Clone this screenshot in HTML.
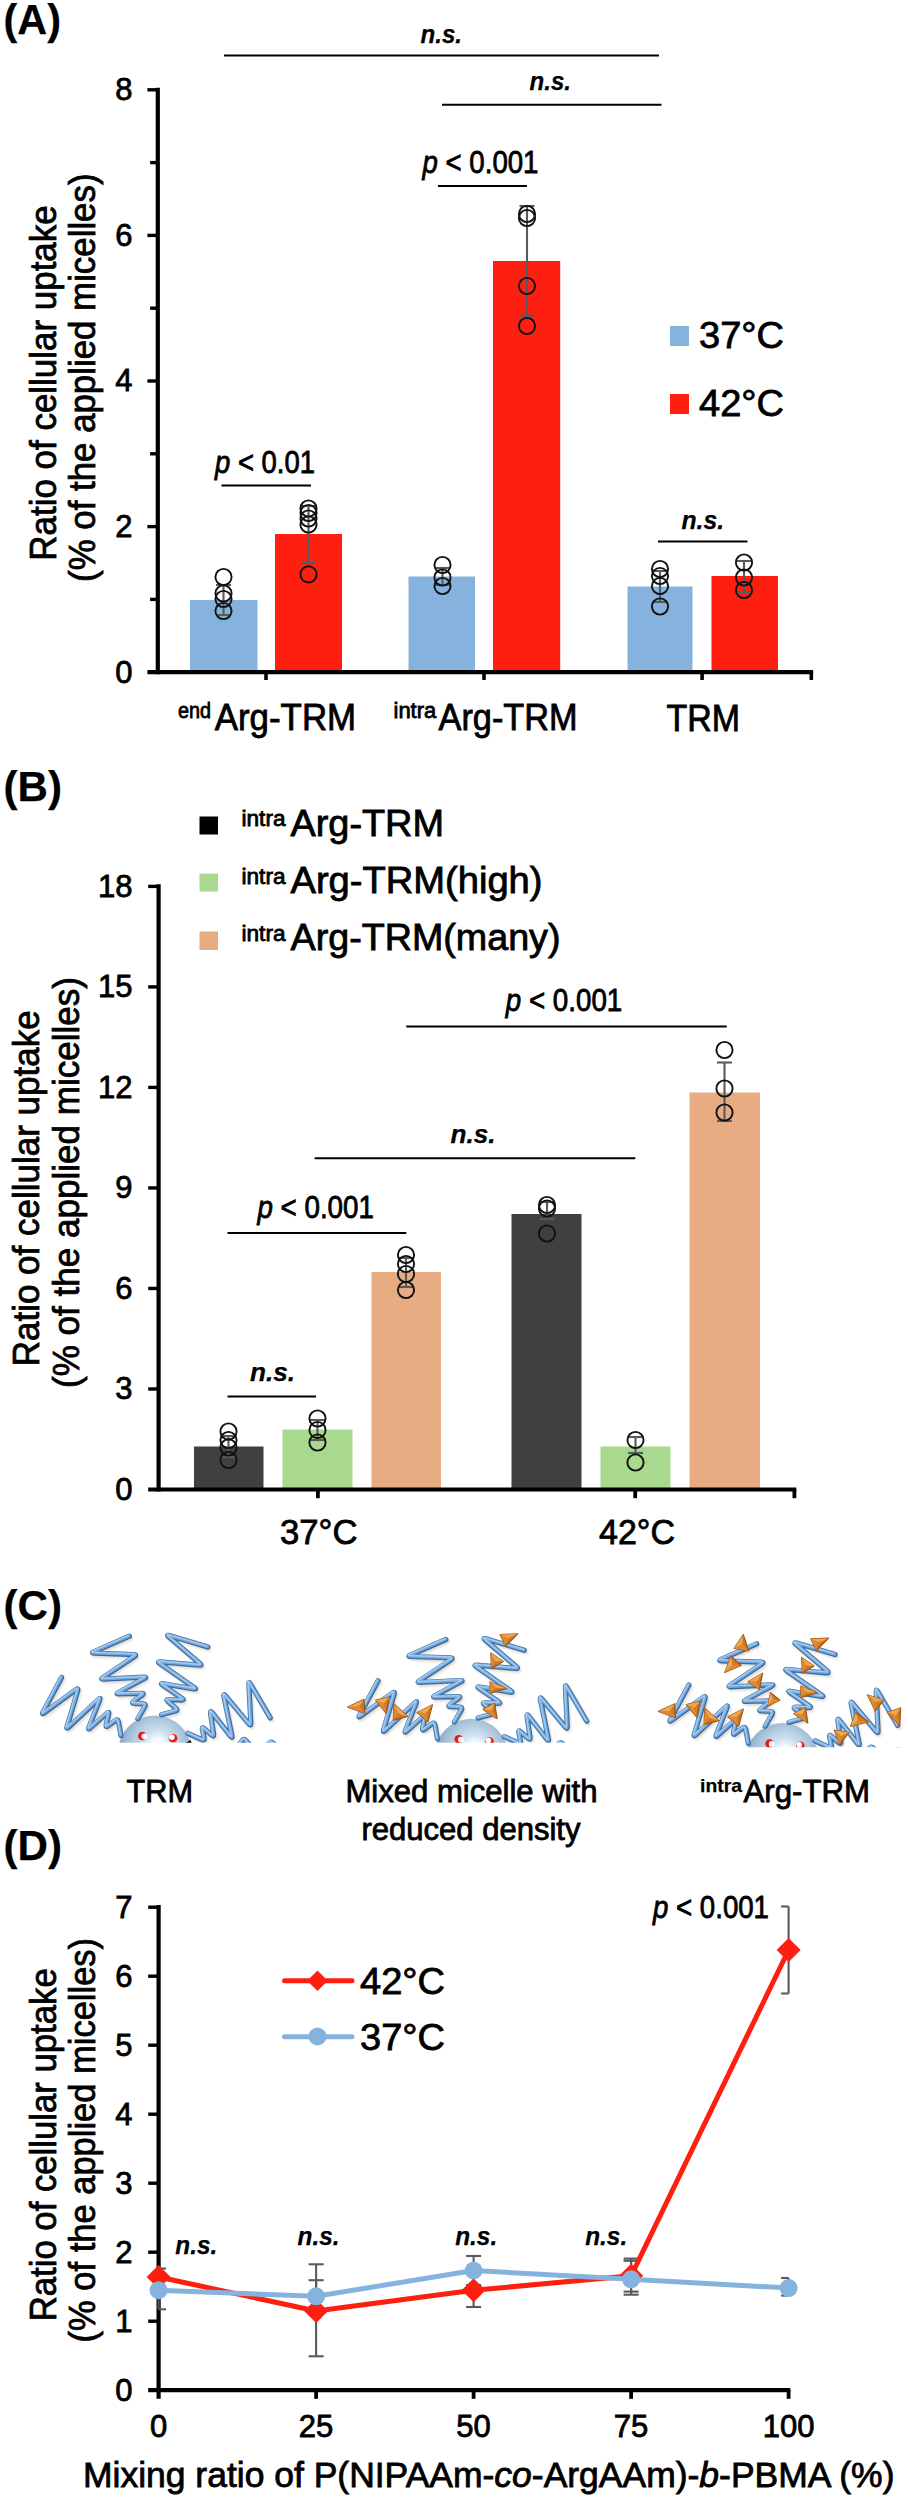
<!DOCTYPE html>
<html><head><meta charset="utf-8"><title>Figure</title>
<style>html,body{margin:0;padding:0;background:#fff;}svg{display:block;}text{font-family:'Liberation Sans', sans-serif;stroke:#000;stroke-width:0.8px;}</style>
</head><body>
<svg width="908" height="2500" viewBox="0 0 908 2500">
<rect width="908" height="2500" fill="#fff"/>
<text x="3.5" y="33.8" font-size="43" text-anchor="start" font-weight="bold" style="stroke-width:0.25px" textLength="57.5" lengthAdjust="spacingAndGlyphs" >(A)</text>
<rect x="190" y="600" width="67.5" height="72.2" fill="#86B3DE"/>
<rect x="275" y="534" width="67" height="138.2" fill="#FF1F10"/>
<rect x="408.5" y="576.5" width="66.5" height="95.7" fill="#86B3DE"/>
<rect x="493" y="261" width="67.2" height="411.2" fill="#FF1F10"/>
<rect x="627.5" y="586.5" width="65.0" height="85.7" fill="#86B3DE"/>
<rect x="711.5" y="576" width="66.5" height="96.2" fill="#FF1F10"/>
<line x1="157.8" y1="87.70000000000007" x2="157.8" y2="674.3000000000001" stroke="#000" stroke-width="4.2" />
<line x1="147.4" y1="672.2" x2="813.1" y2="672.2" stroke="#000" stroke-width="4.2" />
<line x1="150.10000000000002" y1="599.4000000000001" x2="157.8" y2="599.4000000000001" stroke="#000" stroke-width="3.4" />
<line x1="147.4" y1="526.6" x2="157.8" y2="526.6" stroke="#000" stroke-width="3.4" />
<line x1="150.10000000000002" y1="453.80000000000007" x2="157.8" y2="453.80000000000007" stroke="#000" stroke-width="3.4" />
<line x1="147.4" y1="381.00000000000006" x2="157.8" y2="381.00000000000006" stroke="#000" stroke-width="3.4" />
<line x1="150.10000000000002" y1="308.20000000000005" x2="157.8" y2="308.20000000000005" stroke="#000" stroke-width="3.4" />
<line x1="147.4" y1="235.4000000000001" x2="157.8" y2="235.4000000000001" stroke="#000" stroke-width="3.4" />
<line x1="150.10000000000002" y1="162.60000000000008" x2="157.8" y2="162.60000000000008" stroke="#000" stroke-width="3.4" />
<line x1="147.4" y1="89.80000000000007" x2="157.8" y2="89.80000000000007" stroke="#000" stroke-width="3.4" />
<line x1="266" y1="672.2" x2="266" y2="680.0" stroke="#000" stroke-width="3.6" />
<line x1="484" y1="672.2" x2="484" y2="680.0" stroke="#000" stroke-width="3.6" />
<line x1="702.1" y1="672.2" x2="702.1" y2="680.0" stroke="#000" stroke-width="3.6" />
<line x1="811.3" y1="672.2" x2="811.3" y2="680.0" stroke="#000" stroke-width="3.6" />
<text x="132.6" y="682.5" font-size="31" text-anchor="end" >0</text>
<text x="132.6" y="536.9" font-size="31" text-anchor="end" >2</text>
<text x="132.6" y="391.30000000000007" font-size="31" text-anchor="end" >4</text>
<text x="132.6" y="245.7000000000001" font-size="31" text-anchor="end" >6</text>
<text x="132.6" y="100.10000000000007" font-size="31" text-anchor="end" >8</text>
<text transform="translate(55.7,560.7) rotate(-90)" font-size="37" textLength="355.4" lengthAdjust="spacingAndGlyphs">Ratio of cellular uptake</text>
<text transform="translate(95,581.9) rotate(-90)" font-size="37" textLength="408.4" lengthAdjust="spacingAndGlyphs">(% of the applied micelles)</text>
<line x1="223.5" y1="585" x2="223.5" y2="615" stroke="#555b5e" stroke-width="2.1" />
<line x1="216.0" y1="585" x2="231.0" y2="585" stroke="#555b5e" stroke-width="2.1" />
<line x1="216.0" y1="615" x2="231.0" y2="615" stroke="#555b5e" stroke-width="2.1" />
<circle cx="223.5" cy="577" r="8.1" fill="none" stroke="#111" stroke-width="1.9"/>
<circle cx="223.5" cy="593.5" r="8.1" fill="none" stroke="#111" stroke-width="1.9"/>
<circle cx="223.5" cy="599" r="8.1" fill="none" stroke="#111" stroke-width="1.9"/>
<circle cx="223.5" cy="611" r="8.1" fill="none" stroke="#111" stroke-width="1.9"/>
<line x1="308.5" y1="506" x2="308.5" y2="563" stroke="#555b5e" stroke-width="2.1" />
<line x1="301.0" y1="506" x2="316.0" y2="506" stroke="#555b5e" stroke-width="2.1" />
<line x1="301.0" y1="563" x2="316.0" y2="563" stroke="#555b5e" stroke-width="2.1" />
<circle cx="308.5" cy="508.5" r="8.1" fill="none" stroke="#111" stroke-width="1.9"/>
<circle cx="308.5" cy="513" r="8.1" fill="none" stroke="#111" stroke-width="1.9"/>
<circle cx="308.5" cy="518.5" r="8.1" fill="none" stroke="#111" stroke-width="1.9"/>
<circle cx="308.5" cy="524.5" r="8.1" fill="none" stroke="#111" stroke-width="1.9"/>
<circle cx="308.5" cy="574.4" r="8.1" fill="none" stroke="#111" stroke-width="1.9"/>
<line x1="442.5" y1="568" x2="442.5" y2="585" stroke="#555b5e" stroke-width="2.1" />
<line x1="435.0" y1="568" x2="450.0" y2="568" stroke="#555b5e" stroke-width="2.1" />
<line x1="435.0" y1="585" x2="450.0" y2="585" stroke="#555b5e" stroke-width="2.1" />
<circle cx="442.5" cy="565" r="8.1" fill="none" stroke="#111" stroke-width="1.9"/>
<circle cx="442.5" cy="577.5" r="8.1" fill="none" stroke="#111" stroke-width="1.9"/>
<circle cx="442.5" cy="586" r="8.1" fill="none" stroke="#111" stroke-width="1.9"/>
<line x1="527" y1="206" x2="527" y2="316" stroke="#555b5e" stroke-width="2.1" />
<line x1="519.5" y1="206" x2="534.5" y2="206" stroke="#555b5e" stroke-width="2.1" />
<line x1="519.5" y1="316" x2="534.5" y2="316" stroke="#555b5e" stroke-width="2.1" />
<circle cx="527" cy="214" r="8.1" fill="none" stroke="#111" stroke-width="1.9"/>
<circle cx="527" cy="218" r="8.1" fill="none" stroke="#111" stroke-width="1.9"/>
<circle cx="527" cy="286" r="8.1" fill="none" stroke="#111" stroke-width="1.9"/>
<circle cx="527" cy="326" r="8.1" fill="none" stroke="#111" stroke-width="1.9"/>
<line x1="660" y1="571" x2="660" y2="602" stroke="#555b5e" stroke-width="2.1" />
<line x1="652.5" y1="571" x2="667.5" y2="571" stroke="#555b5e" stroke-width="2.1" />
<line x1="652.5" y1="602" x2="667.5" y2="602" stroke="#555b5e" stroke-width="2.1" />
<circle cx="660" cy="569" r="8.1" fill="none" stroke="#111" stroke-width="1.9"/>
<circle cx="660" cy="576" r="8.1" fill="none" stroke="#111" stroke-width="1.9"/>
<circle cx="660" cy="586" r="8.1" fill="none" stroke="#111" stroke-width="1.9"/>
<circle cx="660" cy="606.5" r="8.1" fill="none" stroke="#111" stroke-width="1.9"/>
<line x1="744" y1="561" x2="744" y2="592" stroke="#555b5e" stroke-width="2.1" />
<line x1="736.5" y1="561" x2="751.5" y2="561" stroke="#555b5e" stroke-width="2.1" />
<line x1="736.5" y1="592" x2="751.5" y2="592" stroke="#555b5e" stroke-width="2.1" />
<circle cx="744" cy="562.5" r="8.1" fill="none" stroke="#111" stroke-width="1.9"/>
<circle cx="744" cy="577.5" r="8.1" fill="none" stroke="#111" stroke-width="1.9"/>
<circle cx="744" cy="590" r="8.1" fill="none" stroke="#111" stroke-width="1.9"/>
<text x="420.5" y="43" font-size="25" text-anchor="start" font-weight="bold" style="stroke-width:0.25px" font-style="italic" textLength="41.5" lengthAdjust="spacingAndGlyphs" >n.s.</text>
<line x1="224" y1="55.6" x2="659" y2="55.6" stroke="#000" stroke-width="2" />
<text x="529.5" y="90.3" font-size="25" text-anchor="start" font-weight="bold" style="stroke-width:0.25px" font-style="italic" textLength="41.5" lengthAdjust="spacingAndGlyphs" >n.s.</text>
<line x1="442" y1="104.8" x2="661.5" y2="104.8" stroke="#000" stroke-width="2" />
<text x="422.5" y="172.5" font-size="30.5" text-anchor="start" textLength="116" lengthAdjust="spacingAndGlyphs" ><tspan font-style="italic">p</tspan> &lt; 0.001</text>
<line x1="438" y1="186" x2="527" y2="186" stroke="#000" stroke-width="2" />
<text x="215" y="472.5" font-size="30.5" text-anchor="start" textLength="100" lengthAdjust="spacingAndGlyphs" ><tspan font-style="italic">p</tspan> &lt; 0.01</text>
<line x1="221.5" y1="485.5" x2="311" y2="485.5" stroke="#000" stroke-width="2" />
<text x="681.5" y="528.5" font-size="25" text-anchor="start" font-weight="bold" style="stroke-width:0.25px" font-style="italic" textLength="42.5" lengthAdjust="spacingAndGlyphs" >n.s.</text>
<line x1="658" y1="541.5" x2="747.5" y2="541.5" stroke="#000" stroke-width="2" />
<rect x="670" y="326" width="19" height="20" fill="#86B3DE"/>
<text x="699" y="348" font-size="36" text-anchor="start" textLength="85" lengthAdjust="spacingAndGlyphs" >37°C</text>
<rect x="670" y="394" width="19" height="20" fill="#FF1F10"/>
<text x="699" y="416" font-size="36" text-anchor="start" textLength="85" lengthAdjust="spacingAndGlyphs" >42°C</text>
<text x="178" y="717.8" font-size="22" text-anchor="start" textLength="33" lengthAdjust="spacingAndGlyphs" >end</text>
<text x="214.7" y="729.9" font-size="36" text-anchor="start" textLength="141.5" lengthAdjust="spacingAndGlyphs" >Arg-TRM</text>
<text x="393.5" y="717.8" font-size="22" text-anchor="start" textLength="42.7" lengthAdjust="spacingAndGlyphs" >intra</text>
<text x="438.6" y="729.9" font-size="36" text-anchor="start" textLength="139" lengthAdjust="spacingAndGlyphs" >Arg-TRM</text>
<text x="666.5" y="730.5" font-size="36" text-anchor="start" textLength="73.5" lengthAdjust="spacingAndGlyphs" >TRM</text>
<text x="3.5" y="801.3" font-size="43" text-anchor="start" font-weight="bold" style="stroke-width:0.25px" textLength="58.5" lengthAdjust="spacingAndGlyphs" >(B)</text>
<rect x="194" y="1446.5" width="69.5" height="43.0" fill="#404040"/>
<rect x="282.5" y="1429.5" width="70.0" height="60.0" fill="#A9D98E"/>
<rect x="371.5" y="1272" width="69.5" height="217.5" fill="#E8AC82"/>
<rect x="511.5" y="1214" width="70.0" height="275.5" fill="#404040"/>
<rect x="600.5" y="1446.5" width="70.0" height="43.0" fill="#A9D98E"/>
<rect x="689.5" y="1092.5" width="70.5" height="397.0" fill="#E8AC82"/>
<line x1="158.6" y1="884.28" x2="158.6" y2="1491.6" stroke="#000" stroke-width="4.2" />
<line x1="148.2" y1="1489.5" x2="796.3" y2="1489.5" stroke="#000" stroke-width="4.2" />
<line x1="148.2" y1="1388.98" x2="158.6" y2="1388.98" stroke="#000" stroke-width="3.4" />
<line x1="148.2" y1="1288.46" x2="158.6" y2="1288.46" stroke="#000" stroke-width="3.4" />
<line x1="148.2" y1="1187.94" x2="158.6" y2="1187.94" stroke="#000" stroke-width="3.4" />
<line x1="148.2" y1="1087.42" x2="158.6" y2="1087.42" stroke="#000" stroke-width="3.4" />
<line x1="148.2" y1="986.9" x2="158.6" y2="986.9" stroke="#000" stroke-width="3.4" />
<line x1="148.2" y1="886.38" x2="158.6" y2="886.38" stroke="#000" stroke-width="3.4" />
<line x1="317.9" y1="1489.5" x2="317.9" y2="1498.2" stroke="#000" stroke-width="3.8" />
<line x1="635.2" y1="1489.5" x2="635.2" y2="1498.2" stroke="#000" stroke-width="3.8" />
<line x1="794.4" y1="1489.5" x2="794.4" y2="1498.2" stroke="#000" stroke-width="3.8" />
<text x="132.6" y="1499.8" font-size="31" text-anchor="end" >0</text>
<text x="132.6" y="1399.28" font-size="31" text-anchor="end" >3</text>
<text x="132.6" y="1298.76" font-size="31" text-anchor="end" >6</text>
<text x="132.6" y="1198.24" font-size="31" text-anchor="end" >9</text>
<text x="132.6" y="1097.72" font-size="31" text-anchor="end" >12</text>
<text x="132.6" y="997.1999999999999" font-size="31" text-anchor="end" >15</text>
<text x="132.6" y="896.68" font-size="31" text-anchor="end" >18</text>
<text transform="translate(39.4,1366.3) rotate(-90)" font-size="37" textLength="356" lengthAdjust="spacingAndGlyphs">Ratio of cellular uptake</text>
<text transform="translate(78.6,1388) rotate(-90)" font-size="37" textLength="411" lengthAdjust="spacingAndGlyphs">(% of the applied micelles)</text>
<rect x="199.5" y="816.5" width="18.5" height="18.0" fill="#000"/>
<rect x="199.5" y="873.5" width="18.5" height="18.0" fill="#A9D98E"/>
<rect x="199.5" y="931.5" width="18.5" height="18.5" fill="#E8AC82"/>
<text x="241.5" y="826.3" font-size="22" text-anchor="start" textLength="44" lengthAdjust="spacingAndGlyphs" >intra</text>
<text x="290.5" y="836.0" font-size="36" text-anchor="start" textLength="153.5" lengthAdjust="spacingAndGlyphs" >Arg-TRM</text>
<text x="241.5" y="883.5" font-size="22" text-anchor="start" textLength="44" lengthAdjust="spacingAndGlyphs" >intra</text>
<text x="290.5" y="893.2" font-size="36" text-anchor="start" textLength="252" lengthAdjust="spacingAndGlyphs" >Arg-TRM(high)</text>
<text x="241.5" y="940.6999999999999" font-size="22" text-anchor="start" textLength="44" lengthAdjust="spacingAndGlyphs" >intra</text>
<text x="290.5" y="950.4" font-size="36" text-anchor="start" textLength="270" lengthAdjust="spacingAndGlyphs" >Arg-TRM(many)</text>
<line x1="228.5" y1="1436" x2="228.5" y2="1457" stroke="#555b5e" stroke-width="2.1" />
<line x1="221.0" y1="1436" x2="236.0" y2="1436" stroke="#555b5e" stroke-width="2.1" />
<line x1="221.0" y1="1457" x2="236.0" y2="1457" stroke="#555b5e" stroke-width="2.1" />
<circle cx="228.5" cy="1431.5" r="8.1" fill="none" stroke="#111" stroke-width="1.9"/>
<circle cx="228.5" cy="1440" r="8.1" fill="none" stroke="#111" stroke-width="1.9"/>
<circle cx="228.5" cy="1447.5" r="8.1" fill="none" stroke="#111" stroke-width="1.9"/>
<circle cx="228.5" cy="1460" r="8.1" fill="none" stroke="#111" stroke-width="1.9"/>
<line x1="317.5" y1="1420" x2="317.5" y2="1440" stroke="#555b5e" stroke-width="2.1" />
<line x1="310.0" y1="1420" x2="325.0" y2="1420" stroke="#555b5e" stroke-width="2.1" />
<line x1="310.0" y1="1440" x2="325.0" y2="1440" stroke="#555b5e" stroke-width="2.1" />
<circle cx="317.5" cy="1418.5" r="8.1" fill="none" stroke="#111" stroke-width="1.9"/>
<circle cx="317.5" cy="1430" r="8.1" fill="none" stroke="#111" stroke-width="1.9"/>
<circle cx="317.5" cy="1442.5" r="8.1" fill="none" stroke="#111" stroke-width="1.9"/>
<line x1="406" y1="1258" x2="406" y2="1287" stroke="#555b5e" stroke-width="2.1" />
<line x1="398.5" y1="1258" x2="413.5" y2="1258" stroke="#555b5e" stroke-width="2.1" />
<line x1="398.5" y1="1287" x2="413.5" y2="1287" stroke="#555b5e" stroke-width="2.1" />
<circle cx="406" cy="1255" r="8.1" fill="none" stroke="#111" stroke-width="1.9"/>
<circle cx="406" cy="1264" r="8.1" fill="none" stroke="#111" stroke-width="1.9"/>
<circle cx="406" cy="1274" r="8.1" fill="none" stroke="#111" stroke-width="1.9"/>
<circle cx="406" cy="1290" r="8.1" fill="none" stroke="#111" stroke-width="1.9"/>
<line x1="547" y1="1202" x2="547" y2="1219" stroke="#555b5e" stroke-width="2.1" />
<line x1="539.5" y1="1202" x2="554.5" y2="1202" stroke="#555b5e" stroke-width="2.1" />
<line x1="539.5" y1="1219" x2="554.5" y2="1219" stroke="#555b5e" stroke-width="2.1" />
<circle cx="547" cy="1205" r="8.1" fill="none" stroke="#111" stroke-width="1.9"/>
<circle cx="547" cy="1208.5" r="8.1" fill="none" stroke="#111" stroke-width="1.9"/>
<circle cx="547" cy="1233.5" r="8.1" fill="none" stroke="#111" stroke-width="1.9"/>
<line x1="635.5" y1="1437" x2="635.5" y2="1453" stroke="#555b5e" stroke-width="2.1" />
<line x1="628.0" y1="1437" x2="643.0" y2="1437" stroke="#555b5e" stroke-width="2.1" />
<line x1="628.0" y1="1453" x2="643.0" y2="1453" stroke="#555b5e" stroke-width="2.1" />
<circle cx="635.5" cy="1440" r="8.1" fill="none" stroke="#111" stroke-width="1.9"/>
<circle cx="635.5" cy="1462.5" r="8.1" fill="none" stroke="#111" stroke-width="1.9"/>
<line x1="724.5" y1="1062.5" x2="724.5" y2="1121" stroke="#555b5e" stroke-width="2.1" />
<line x1="717.0" y1="1062.5" x2="732.0" y2="1062.5" stroke="#555b5e" stroke-width="2.1" />
<line x1="717.0" y1="1121" x2="732.0" y2="1121" stroke="#555b5e" stroke-width="2.1" />
<circle cx="724.5" cy="1050" r="8.1" fill="none" stroke="#111" stroke-width="1.9"/>
<circle cx="724.5" cy="1088.5" r="8.1" fill="none" stroke="#111" stroke-width="1.9"/>
<circle cx="724.5" cy="1112.5" r="8.1" fill="none" stroke="#111" stroke-width="1.9"/>
<text x="505.8" y="1010.8" font-size="30.5" text-anchor="start" textLength="116.5" lengthAdjust="spacingAndGlyphs" ><tspan font-style="italic">p</tspan> &lt; 0.001</text>
<line x1="406.3" y1="1026.5" x2="726.7" y2="1026.5" stroke="#000" stroke-width="2" />
<text x="450.6" y="1142.5" font-size="25" text-anchor="start" font-weight="bold" style="stroke-width:0.25px" font-style="italic" textLength="45" lengthAdjust="spacingAndGlyphs" >n.s.</text>
<line x1="314.6" y1="1158.2" x2="635.3" y2="1158.2" stroke="#000" stroke-width="2" />
<text x="257.4" y="1218.4" font-size="30.5" text-anchor="start" textLength="116.5" lengthAdjust="spacingAndGlyphs" ><tspan font-style="italic">p</tspan> &lt; 0.001</text>
<line x1="227.5" y1="1233" x2="406.3" y2="1233" stroke="#000" stroke-width="2" />
<text x="250" y="1381" font-size="25" text-anchor="start" font-weight="bold" style="stroke-width:0.25px" font-style="italic" textLength="45" lengthAdjust="spacingAndGlyphs" >n.s.</text>
<line x1="227.5" y1="1396.5" x2="316" y2="1396.5" stroke="#000" stroke-width="2" />
<text x="280" y="1543.6" font-size="34.5" text-anchor="start" textLength="77.5" lengthAdjust="spacingAndGlyphs" >37°C</text>
<text x="599" y="1543.6" font-size="34.5" text-anchor="start" textLength="76" lengthAdjust="spacingAndGlyphs" >42°C</text>
<text x="3.5" y="1620.4" font-size="43" text-anchor="start" font-weight="bold" style="stroke-width:0.25px" textLength="58.5" lengthAdjust="spacingAndGlyphs" >(C)</text>
<defs>
<radialGradient id="sph" gradientUnits="userSpaceOnUse" cx="157" cy="1746" r="43" fx="158" fy="1744">
<stop offset="0" stop-color="#ffffff"/><stop offset="0.14" stop-color="#f4f9fd"/><stop offset="0.32" stop-color="#cfe1ef"/><stop offset="0.58" stop-color="#b0cadf"/><stop offset="0.82" stop-color="#93b0c9"/><stop offset="1" stop-color="#7d99b1"/>
</radialGradient>
<filter id="shb" x="-10%" y="-10%" width="120%" height="130%"><feGaussianBlur stdDeviation="1.1"/></filter>
<filter id="sft" x="-5%" y="-5%" width="110%" height="110%"><feGaussianBlur stdDeviation="0.45"/></filter>
<g id="chains">
<path d="M61.6,1677.4 L43.1,1712.0 Q41.6,1714.8 44.2,1712.9 L76.0,1689.7 Q78.6,1687.8 77.7,1690.9 L67.1,1726.4 Q66.2,1729.5 68.5,1727.3 L98.6,1699.3 Q100.9,1697.1 99.7,1700.1 L89.0,1727.2 Q87.8,1730.2 90.2,1728.1 L107.0,1713.1 Q109.4,1711.0 108.7,1714.1 L106.2,1724.8 Q105.5,1727.9 108.1,1726.0 L115.3,1720.6 Q117.9,1718.7 118.5,1721.8 L121.0,1735.6"/><path d="M129.4,1636.2 L93.8,1651.8 Q90.9,1653.1 94.1,1653.2 L134.0,1654.6 Q137.2,1654.7 134.5,1656.5 L102.9,1677.6 Q100.2,1679.4 103.4,1679.2 L144.0,1677.2 Q147.2,1677.0 144.4,1678.5 L118.4,1692.5 Q115.6,1694.0 118.8,1693.9 L141.7,1693.3 Q144.9,1693.2 142.3,1695.1 L133.6,1701.4 Q131.0,1703.3 134.2,1703.4 L143.2,1703.9 Q146.4,1704.0 144.8,1706.8 L137.9,1718.7"/><path d="M207.8,1647.0 L169.3,1635.5 Q166.2,1634.6 168.6,1636.7 L200.0,1663.4 Q202.4,1665.5 199.2,1665.2 L160.2,1661.9 Q157.0,1661.6 159.6,1663.4 L194.4,1687.6 Q197.0,1689.4 193.8,1688.9 L163.2,1683.7 Q160.0,1683.2 162.6,1685.0 L182.1,1698.4 Q184.7,1700.2 181.5,1700.1 L168.6,1699.5 Q165.4,1699.4 167.9,1701.4 L176.0,1708.2 Q178.5,1710.2 175.4,1711.0 L161.6,1714.8"/><path d="M187.8,1733.3 L201.9,1739.7 Q204.8,1741.0 204.1,1737.9 L202.4,1729.5 Q201.7,1726.4 204.1,1728.5 L211.6,1735.1 Q214.0,1737.2 213.6,1734.0 L210.6,1713.4 Q210.2,1710.2 212.2,1712.7 L230.5,1736.2 Q232.5,1738.7 231.9,1735.6 L223.9,1696.3 Q223.3,1693.2 225.4,1695.7 L248.9,1723.9 Q251.0,1726.4 250.8,1723.2 L248.9,1684.1 Q248.7,1680.9 250.3,1683.7 L270.3,1717.9"/><path d="M239.5,1744.0 L242.0,1740.7 Q244.0,1738.2 246.1,1740.6 L249.0,1744.0"/><path d="M268.5,1744.0 L269.8,1742.8 Q271.0,1741.5 272.5,1742.8 L274.0,1744.0"/>
</g>
<g id="sphere">
<circle cx="154.8" cy="1752" r="36.6" fill="url(#sph)"/>
<path d="M184.5,1743.5 L192,1743.5 L190.3,1739.8 Q188,1742 184.5,1743.5 Z" fill="#111"/>
<circle cx="142.3" cy="1736" r="4.3" fill="#f01515"/><circle cx="144.4" cy="1736.3" r="2.9" fill="#fff"/>
<circle cx="173" cy="1738.2" r="4.3" fill="#f01515"/><circle cx="171.9" cy="1737.2" r="2.8" fill="#fff"/>
</g>
</defs><clipPath id="mc1"><rect x="20" y="1620" width="280" height="122.79999999999995"/></clipPath><g clip-path="url(#mc1)"><g transform="translate(0,0)" filter="url(#sft)"><use href="#chains" transform="translate(1.6,2.2)" fill="none" stroke="#d9cfc0" stroke-opacity="0.75" stroke-width="4.6" stroke-linejoin="round" stroke-linecap="round" filter="url(#shb)"/><use href="#sphere"/><use href="#chains" fill="none" stroke="#386ca6" stroke-width="5.2" stroke-linejoin="round" stroke-linecap="round"/><use href="#chains" transform="translate(-0.35,-0.45)" fill="none" stroke="#74a8da" stroke-width="3.4" stroke-linejoin="round" stroke-linecap="round"/><use href="#chains" transform="translate(-0.7,-0.9)" fill="none" stroke="#a8ccee" stroke-width="1.3" stroke-linejoin="round" stroke-linecap="round"/></g></g><clipPath id="mc2"><rect x="330" y="1620" width="280" height="122.79999999999995"/></clipPath><g clip-path="url(#mc2)"><g transform="translate(316.5,3.3)" filter="url(#sft)"><use href="#chains" transform="translate(1.6,2.2)" fill="none" stroke="#d9cfc0" stroke-opacity="0.75" stroke-width="4.6" stroke-linejoin="round" stroke-linecap="round" filter="url(#shb)"/><use href="#sphere"/><use href="#chains" fill="none" stroke="#386ca6" stroke-width="5.2" stroke-linejoin="round" stroke-linecap="round"/><use href="#chains" transform="translate(-0.35,-0.45)" fill="none" stroke="#74a8da" stroke-width="3.4" stroke-linejoin="round" stroke-linecap="round"/><use href="#chains" transform="translate(-0.7,-0.9)" fill="none" stroke="#a8ccee" stroke-width="1.3" stroke-linejoin="round" stroke-linecap="round"/><path d="M31.2,1703.8 L47.4,1696.1 L48.2,1710.0 Z" fill="#cf7a26" stroke="#9c5218" stroke-width="1.2" stroke-linejoin="round"/><path d="M31.2,1703.8 L47.4,1696.1 L42.3,1703.3 Z" fill="#f0a850"/><path d="M31.2,1703.8 L48.2,1710.0 L42.3,1703.3 Z" fill="#dd8a32"/><path d="M59.0,1696.9 L72.8,1693.8 L69.8,1710.0 Z" fill="#cf7a26" stroke="#9c5218" stroke-width="1.2" stroke-linejoin="round"/><path d="M59.0,1696.9 L72.8,1693.8 L67.2,1700.2 Z" fill="#f0a850"/><path d="M59.0,1696.9 L69.8,1710.0 L67.2,1700.2 Z" fill="#dd8a32"/><path d="M77.5,1700.7 L91.3,1713.1 L76.7,1716.9 Z" fill="#cf7a26" stroke="#9c5218" stroke-width="1.2" stroke-linejoin="round"/><path d="M77.5,1700.7 L91.3,1713.1 L81.8,1710.2 Z" fill="#f0a850"/><path d="M77.5,1700.7 L76.7,1716.9 L81.8,1710.2 Z" fill="#dd8a32"/><path d="M100.6,1709.2 L116.0,1701.5 L111.4,1718.5 Z" fill="#cf7a26" stroke="#9c5218" stroke-width="1.2" stroke-linejoin="round"/><path d="M100.6,1709.2 L116.0,1701.5 L109.3,1709.7 Z" fill="#f0a850"/><path d="M100.6,1709.2 L111.4,1718.5 L109.3,1709.7 Z" fill="#dd8a32"/><path d="M183.6,1631.3 L201.3,1630.6 L189.0,1642.9 Z" fill="#cf7a26" stroke="#9c5218" stroke-width="1.2" stroke-linejoin="round"/><path d="M183.6,1631.3 L201.3,1630.6 L191.3,1634.9 Z" fill="#f0a850"/><path d="M183.6,1631.3 L189.0,1642.9 L191.3,1634.9 Z" fill="#dd8a32"/><path d="M174.3,1649.8 L186.7,1658.3 L175.1,1665.3 Z" fill="#cf7a26" stroke="#9c5218" stroke-width="1.2" stroke-linejoin="round"/><path d="M174.3,1649.8 L186.7,1658.3 L178.7,1657.8 Z" fill="#f0a850"/><path d="M174.3,1649.8 L175.1,1665.3 L178.7,1657.8 Z" fill="#dd8a32"/><path d="M173.6,1678.4 L189.8,1685.3 L173.6,1689.9 Z" fill="#cf7a26" stroke="#9c5218" stroke-width="1.2" stroke-linejoin="round"/><path d="M173.6,1678.4 L189.8,1685.3 L179.0,1684.5 Z" fill="#f0a850"/><path d="M173.6,1678.4 L173.6,1689.9 L179.0,1684.5 Z" fill="#dd8a32"/><path d="M166.6,1706.1 L178.2,1700.0 L180.5,1715.4 Z" fill="#cf7a26" stroke="#9c5218" stroke-width="1.2" stroke-linejoin="round"/><path d="M166.6,1706.1 L178.2,1700.0 L175.1,1707.2 Z" fill="#f0a850"/><path d="M166.6,1706.1 L180.5,1715.4 L175.1,1707.2 Z" fill="#dd8a32"/></g></g><clipPath id="mc3"><rect x="640" y="1620" width="268" height="127.20000000000005"/></clipPath><g clip-path="url(#mc3)"><g transform="translate(627.3,7.6)" filter="url(#sft)"><use href="#chains" transform="translate(1.6,2.2)" fill="none" stroke="#d9cfc0" stroke-opacity="0.75" stroke-width="4.6" stroke-linejoin="round" stroke-linecap="round" filter="url(#shb)"/><use href="#sphere"/><use href="#chains" fill="none" stroke="#386ca6" stroke-width="5.2" stroke-linejoin="round" stroke-linecap="round"/><use href="#chains" transform="translate(-0.35,-0.45)" fill="none" stroke="#74a8da" stroke-width="3.4" stroke-linejoin="round" stroke-linecap="round"/><use href="#chains" transform="translate(-0.7,-0.9)" fill="none" stroke="#a8ccee" stroke-width="1.3" stroke-linejoin="round" stroke-linecap="round"/><path d="M31.2,1703.8 L47.4,1696.1 L48.2,1710.0 Z" fill="#cf7a26" stroke="#9c5218" stroke-width="1.2" stroke-linejoin="round"/><path d="M31.2,1703.8 L47.4,1696.1 L42.3,1703.3 Z" fill="#f0a850"/><path d="M31.2,1703.8 L48.2,1710.0 L42.3,1703.3 Z" fill="#dd8a32"/><path d="M59.0,1696.9 L72.8,1693.8 L69.8,1710.0 Z" fill="#cf7a26" stroke="#9c5218" stroke-width="1.2" stroke-linejoin="round"/><path d="M59.0,1696.9 L72.8,1693.8 L67.2,1700.2 Z" fill="#f0a850"/><path d="M59.0,1696.9 L69.8,1710.0 L67.2,1700.2 Z" fill="#dd8a32"/><path d="M77.5,1700.7 L91.3,1713.1 L76.7,1716.9 Z" fill="#cf7a26" stroke="#9c5218" stroke-width="1.2" stroke-linejoin="round"/><path d="M77.5,1700.7 L91.3,1713.1 L81.8,1710.2 Z" fill="#f0a850"/><path d="M77.5,1700.7 L76.7,1716.9 L81.8,1710.2 Z" fill="#dd8a32"/><path d="M100.6,1709.2 L116.0,1701.5 L111.4,1718.5 Z" fill="#cf7a26" stroke="#9c5218" stroke-width="1.2" stroke-linejoin="round"/><path d="M100.6,1709.2 L116.0,1701.5 L109.3,1709.7 Z" fill="#f0a850"/><path d="M100.6,1709.2 L111.4,1718.5 L109.3,1709.7 Z" fill="#dd8a32"/><path d="M183.6,1631.3 L201.3,1630.6 L189.0,1642.9 Z" fill="#cf7a26" stroke="#9c5218" stroke-width="1.2" stroke-linejoin="round"/><path d="M183.6,1631.3 L201.3,1630.6 L191.3,1634.9 Z" fill="#f0a850"/><path d="M183.6,1631.3 L189.0,1642.9 L191.3,1634.9 Z" fill="#dd8a32"/><path d="M174.3,1649.8 L186.7,1658.3 L175.1,1665.3 Z" fill="#cf7a26" stroke="#9c5218" stroke-width="1.2" stroke-linejoin="round"/><path d="M174.3,1649.8 L186.7,1658.3 L178.7,1657.8 Z" fill="#f0a850"/><path d="M174.3,1649.8 L175.1,1665.3 L178.7,1657.8 Z" fill="#dd8a32"/><path d="M173.6,1678.4 L189.8,1685.3 L173.6,1689.9 Z" fill="#cf7a26" stroke="#9c5218" stroke-width="1.2" stroke-linejoin="round"/><path d="M173.6,1678.4 L189.8,1685.3 L179.0,1684.5 Z" fill="#f0a850"/><path d="M173.6,1678.4 L173.6,1689.9 L179.0,1684.5 Z" fill="#dd8a32"/><path d="M166.6,1706.1 L178.2,1700.0 L180.5,1715.4 Z" fill="#cf7a26" stroke="#9c5218" stroke-width="1.2" stroke-linejoin="round"/><path d="M166.6,1706.1 L178.2,1700.0 L175.1,1707.2 Z" fill="#f0a850"/><path d="M166.6,1706.1 L180.5,1715.4 L175.1,1707.2 Z" fill="#dd8a32"/><path d="M106.7,1640.9 L116.0,1627.0 L121.4,1643.2 Z" fill="#cf7a26" stroke="#9c5218" stroke-width="1.2" stroke-linejoin="round"/><path d="M106.7,1640.9 L116.0,1627.0 L114.7,1637.0 Z" fill="#f0a850"/><path d="M106.7,1640.9 L121.4,1643.2 L114.7,1637.0 Z" fill="#dd8a32"/><path d="M97.5,1664.8 L103.7,1648.6 L113.7,1657.9 Z" fill="#cf7a26" stroke="#9c5218" stroke-width="1.2" stroke-linejoin="round"/><path d="M97.5,1664.8 L103.7,1648.6 L105.0,1657.1 Z" fill="#f0a850"/><path d="M97.5,1664.8 L113.7,1657.9 L105.0,1657.1 Z" fill="#dd8a32"/><path d="M120.6,1674.1 L135.3,1665.6 L132.2,1681.8 Z" fill="#cf7a26" stroke="#9c5218" stroke-width="1.2" stroke-linejoin="round"/><path d="M120.6,1674.1 L135.3,1665.6 L129.4,1673.8 Z" fill="#f0a850"/><path d="M120.6,1674.1 L132.2,1681.8 L129.4,1673.8 Z" fill="#dd8a32"/><path d="M140.7,1698.0 L143.0,1684.9 L152.7,1692.6 Z" fill="#cf7a26" stroke="#9c5218" stroke-width="1.2" stroke-linejoin="round"/><path d="M140.7,1698.0 L143.0,1684.9 L145.5,1691.8 Z" fill="#f0a850"/><path d="M140.7,1698.0 L152.7,1692.6 L145.5,1691.8 Z" fill="#dd8a32"/><path d="M207.0,1722.6 L221.6,1724.9 L212.4,1737.3 Z" fill="#cf7a26" stroke="#9c5218" stroke-width="1.2" stroke-linejoin="round"/><path d="M207.0,1722.6 L221.6,1724.9 L213.7,1728.3 Z" fill="#f0a850"/><path d="M207.0,1722.6 L212.4,1737.3 L213.7,1728.3 Z" fill="#dd8a32"/><path d="M223.2,1718.8 L228.6,1704.9 L240.9,1714.2 Z" fill="#cf7a26" stroke="#9c5218" stroke-width="1.2" stroke-linejoin="round"/><path d="M223.2,1718.8 L228.6,1704.9 L230.9,1712.6 Z" fill="#f0a850"/><path d="M223.2,1718.8 L240.9,1714.2 L230.9,1712.6 Z" fill="#dd8a32"/><path d="M240.1,1687.2 L256.3,1692.6 L247.9,1703.4 Z" fill="#cf7a26" stroke="#9c5218" stroke-width="1.2" stroke-linejoin="round"/><path d="M240.1,1687.2 L256.3,1692.6 L248.1,1694.4 Z" fill="#f0a850"/><path d="M240.1,1687.2 L247.9,1703.4 L248.1,1694.4 Z" fill="#dd8a32"/><path d="M260.2,1704.9 L273.3,1700.3 L272.5,1718.0 Z" fill="#cf7a26" stroke="#9c5218" stroke-width="1.2" stroke-linejoin="round"/><path d="M260.2,1704.9 L273.3,1700.3 L268.7,1707.7 Z" fill="#f0a850"/><path d="M260.2,1704.9 L272.5,1718.0 L268.7,1707.7 Z" fill="#dd8a32"/></g></g>
<text x="126.6" y="1802" font-size="31" text-anchor="start" textLength="66.5" lengthAdjust="spacingAndGlyphs" >TRM</text>
<text x="345.5" y="1802" font-size="31" text-anchor="start" textLength="252" lengthAdjust="spacingAndGlyphs" >Mixed micelle with</text>
<text x="361.5" y="1840" font-size="31" text-anchor="start" textLength="219" lengthAdjust="spacingAndGlyphs" >reduced density</text>
<text x="700" y="1792.2" font-size="19" text-anchor="start" font-weight="bold" style="stroke-width:0.25px" textLength="42" lengthAdjust="spacingAndGlyphs" >intra</text>
<text x="743.5" y="1802" font-size="31" text-anchor="start" textLength="126.5" lengthAdjust="spacingAndGlyphs" >Arg-TRM</text>
<text x="3.5" y="1860.2" font-size="43" text-anchor="start" font-weight="bold" style="stroke-width:0.25px" textLength="58.5" lengthAdjust="spacingAndGlyphs" >(D)</text>
<line x1="158.6" y1="1905.1" x2="158.6" y2="2398.7999999999997" stroke="#000" stroke-width="4.2" />
<line x1="148.2" y1="2390.2" x2="790.3000000000001" y2="2390.2" stroke="#000" stroke-width="4.2" />
<line x1="148.2" y1="2321.2" x2="158.6" y2="2321.2" stroke="#000" stroke-width="3.4" />
<line x1="148.2" y1="2252.2" x2="158.6" y2="2252.2" stroke="#000" stroke-width="3.4" />
<line x1="148.2" y1="2183.2" x2="158.6" y2="2183.2" stroke="#000" stroke-width="3.4" />
<line x1="148.2" y1="2114.2" x2="158.6" y2="2114.2" stroke="#000" stroke-width="3.4" />
<line x1="148.2" y1="2045.1999999999998" x2="158.6" y2="2045.1999999999998" stroke="#000" stroke-width="3.4" />
<line x1="148.2" y1="1976.1999999999998" x2="158.6" y2="1976.1999999999998" stroke="#000" stroke-width="3.4" />
<line x1="148.2" y1="1907.1999999999998" x2="158.6" y2="1907.1999999999998" stroke="#000" stroke-width="3.4" />
<line x1="316.1" y1="2390.2" x2="316.1" y2="2398.7999999999997" stroke="#000" stroke-width="3.8" />
<line x1="473.6" y1="2390.2" x2="473.6" y2="2398.7999999999997" stroke="#000" stroke-width="3.8" />
<line x1="631.1" y1="2390.2" x2="631.1" y2="2398.7999999999997" stroke="#000" stroke-width="3.8" />
<line x1="788.6" y1="2390.2" x2="788.6" y2="2398.7999999999997" stroke="#000" stroke-width="3.8" />
<text x="132.6" y="2400.5" font-size="31" text-anchor="end" >0</text>
<text x="132.6" y="2331.5" font-size="31" text-anchor="end" >1</text>
<text x="132.6" y="2262.5" font-size="31" text-anchor="end" >2</text>
<text x="132.6" y="2193.5" font-size="31" text-anchor="end" >3</text>
<text x="132.6" y="2124.5" font-size="31" text-anchor="end" >4</text>
<text x="132.6" y="2055.5" font-size="31" text-anchor="end" >5</text>
<text x="132.6" y="1986.4999999999998" font-size="31" text-anchor="end" >6</text>
<text x="132.6" y="1917.4999999999998" font-size="31" text-anchor="end" >7</text>
<text x="158.6" y="2437" font-size="31" text-anchor="middle" >0</text>
<text x="316.1" y="2437" font-size="31" text-anchor="middle" >25</text>
<text x="473.6" y="2437" font-size="31" text-anchor="middle" >50</text>
<text x="631.1" y="2437" font-size="31" text-anchor="middle" >75</text>
<text x="788.6" y="2437" font-size="31" text-anchor="middle" >100</text>
<text transform="translate(55.7,2321.3) rotate(-90)" font-size="37" textLength="353" lengthAdjust="spacingAndGlyphs">Ratio of cellular uptake</text>
<text transform="translate(95,2342.4) rotate(-90)" font-size="37" textLength="404.5" lengthAdjust="spacingAndGlyphs">(% of the applied micelles)</text>
<text x="83" y="2487" font-size="35" text-anchor="start" textLength="811.5" lengthAdjust="spacingAndGlyphs" >Mixing ratio of P(NIPAAm-<tspan font-style="italic">co</tspan>-ArgAAm)-<tspan font-style="italic">b</tspan>-PBMA (%)</text>
<line x1="158.6" y1="2268.5" x2="158.6" y2="2309.3" stroke="#555b5e" stroke-width="2.1" />
<line x1="158.6" y1="2268.5" x2="166.1" y2="2268.5" stroke="#555b5e" stroke-width="2.1" />
<line x1="158.6" y1="2309.3" x2="166.1" y2="2309.3" stroke="#555b5e" stroke-width="2.1" />
<line x1="316.1" y1="2264.3" x2="316.1" y2="2356.3" stroke="#555b5e" stroke-width="2.1" />
<line x1="308.6" y1="2264.3" x2="323.6" y2="2264.3" stroke="#555b5e" stroke-width="2.1" />
<line x1="308.6" y1="2356.3" x2="323.6" y2="2356.3" stroke="#555b5e" stroke-width="2.1" />
<line x1="316.1" y1="2280.2" x2="316.1" y2="2313" stroke="#555b5e" stroke-width="2.1" />
<line x1="308.6" y1="2280.2" x2="323.6" y2="2280.2" stroke="#555b5e" stroke-width="2.1" />
<line x1="308.6" y1="2313" x2="323.6" y2="2313" stroke="#555b5e" stroke-width="2.1" />
<line x1="473.6" y1="2256" x2="473.6" y2="2285" stroke="#555b5e" stroke-width="2.1" />
<line x1="466.1" y1="2256" x2="481.1" y2="2256" stroke="#555b5e" stroke-width="2.1" />
<line x1="466.1" y1="2285" x2="481.1" y2="2285" stroke="#555b5e" stroke-width="2.1" />
<line x1="473.6" y1="2273" x2="473.6" y2="2307" stroke="#555b5e" stroke-width="2.1" />
<line x1="466.1" y1="2273" x2="481.1" y2="2273" stroke="#555b5e" stroke-width="2.1" />
<line x1="466.1" y1="2307" x2="481.1" y2="2307" stroke="#555b5e" stroke-width="2.1" />
<line x1="631.1" y1="2258.6" x2="631.1" y2="2291.6" stroke="#555b5e" stroke-width="2.1" />
<line x1="623.6" y1="2258.6" x2="638.6" y2="2258.6" stroke="#555b5e" stroke-width="2.1" />
<line x1="623.6" y1="2291.6" x2="638.6" y2="2291.6" stroke="#555b5e" stroke-width="2.1" />
<line x1="631.1" y1="2260.8" x2="631.1" y2="2294.7" stroke="#555b5e" stroke-width="2.1" />
<line x1="623.6" y1="2260.8" x2="638.6" y2="2260.8" stroke="#555b5e" stroke-width="2.1" />
<line x1="623.6" y1="2294.7" x2="638.6" y2="2294.7" stroke="#555b5e" stroke-width="2.1" />
<line x1="788.6" y1="1906.5" x2="788.6" y2="1993.5" stroke="#555b5e" stroke-width="2.1" />
<line x1="781.1" y1="1906.5" x2="788.6" y2="1906.5" stroke="#555b5e" stroke-width="2.1" />
<line x1="781.1" y1="1993.5" x2="788.6" y2="1993.5" stroke="#555b5e" stroke-width="2.1" />
<line x1="788.6" y1="2278" x2="788.6" y2="2295.6" stroke="#555b5e" stroke-width="2.1" />
<line x1="781.1" y1="2278" x2="788.6" y2="2278" stroke="#555b5e" stroke-width="2.1" />
<line x1="781.1" y1="2295.6" x2="788.6" y2="2295.6" stroke="#555b5e" stroke-width="2.1" />
<polyline points="158.6,2277 316.1,2311 473.6,2290.3 631.1,2275.8 788.6,1950" fill="none" stroke="#FF1F10" stroke-width="5" stroke-linejoin="round"/>
<path d="M146.6,2277 L158.6,2265 L170.6,2277 L158.6,2289 Z" fill="#FF1F10"/>
<path d="M304.1,2311 L316.1,2299 L328.1,2311 L316.1,2323 Z" fill="#FF1F10"/>
<path d="M461.6,2290.3 L473.6,2278.3 L485.6,2290.3 L473.6,2302.3 Z" fill="#FF1F10"/>
<path d="M619.1,2275.8 L631.1,2263.8 L643.1,2275.8 L631.1,2287.8 Z" fill="#FF1F10"/>
<path d="M776.6,1950 L788.6,1938 L800.6,1950 L788.6,1962 Z" fill="#FF1F10"/>
<polyline points="158.6,2290.2 316.1,2296.3 473.6,2270.5 631.1,2279.3 788.6,2288.1" fill="none" stroke="#86B3DE" stroke-width="5" stroke-linejoin="round"/>
<circle cx="158.6" cy="2290.2" r="9" fill="#86B3DE"/>
<circle cx="316.1" cy="2296.3" r="9" fill="#86B3DE"/>
<circle cx="473.6" cy="2270.5" r="9" fill="#86B3DE"/>
<circle cx="631.1" cy="2279.3" r="9" fill="#86B3DE"/>
<circle cx="788.6" cy="2288.1" r="9" fill="#86B3DE"/>
<line x1="284.5" y1="1980.7" x2="352" y2="1980.7" stroke="#FF1F10" stroke-width="5" stroke-linecap="round"/>
<path d="M307.2,1980.7 L317.5,1970.4 L327.8,1980.7 L317.5,1991.0 Z" fill="#FF1F10"/>
<text x="360" y="1993.7" font-size="36" text-anchor="start" textLength="85" lengthAdjust="spacingAndGlyphs" >42°C</text>
<line x1="284.5" y1="2036.7" x2="352" y2="2036.7" stroke="#86B3DE" stroke-width="5" stroke-linecap="round"/>
<circle cx="317.5" cy="2036.5" r="9" fill="#86B3DE"/>
<text x="360" y="2049.7" font-size="36" text-anchor="start" textLength="85" lengthAdjust="spacingAndGlyphs" >37°C</text>
<text x="653" y="1917.5" font-size="30.5" text-anchor="start" textLength="116" lengthAdjust="spacingAndGlyphs" ><tspan font-style="italic">p</tspan> &lt; 0.001</text>
<text x="175.3" y="2253.5" font-size="25" text-anchor="start" font-weight="bold" style="stroke-width:0.25px" font-style="italic" textLength="42" lengthAdjust="spacingAndGlyphs" >n.s.</text>
<text x="297.5" y="2245" font-size="25" text-anchor="start" font-weight="bold" style="stroke-width:0.25px" font-style="italic" textLength="42" lengthAdjust="spacingAndGlyphs" >n.s.</text>
<text x="455.2" y="2245" font-size="25" text-anchor="start" font-weight="bold" style="stroke-width:0.25px" font-style="italic" textLength="42" lengthAdjust="spacingAndGlyphs" >n.s.</text>
<text x="585.2" y="2245" font-size="25" text-anchor="start" font-weight="bold" style="stroke-width:0.25px" font-style="italic" textLength="42" lengthAdjust="spacingAndGlyphs" >n.s.</text>
</svg></body></html>
